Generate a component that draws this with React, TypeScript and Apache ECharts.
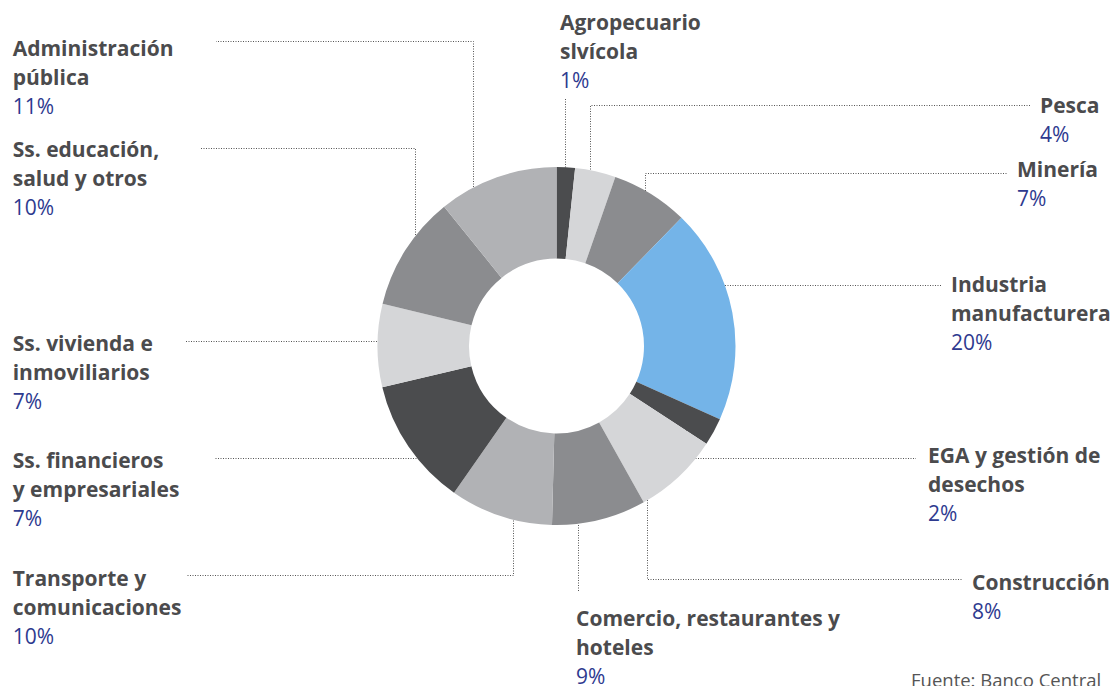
import React, { useEffect, useRef } from "react";
import * as echarts from "echarts";

const categories = [
  "Agropecuario\nslvícola",
  "Pesca",
  "Minería",
  "Industria\nmanufacturera",
  "EGA y gestión de\ndesechos",
  "Construcción",
  "Comercio, restaurantes y\nhoteles",
  "Transporte y\ncomunicaciones",
  "Ss. financieros\ny empresariales",
  "Ss. vivienda e\ninmoviliarios",
  "Ss. educación,\nsalud y otros",
  "Administración\npública",
];
// slice shares
const shares = [1.66, 3.67, 6.97, 19.4, 2.5, 7.7, 8.5, 9.3, 11.6, 7.5, 10.4, 10.8];
// percentages printed in the labels
const shareLabels = ["1%", "4%", "7%", "20%", "2%", "8%", "9%", "10%", "7%", "7%", "10%", "11%"];

const DARK = "#4b4c4e";
const LIGHT = "#d5d6d8";
const MID = "#8b8c8f";
const SOFT = "#b1b2b5";
const BLUE = "#74b4e8";
const sliceColors = [DARK, LIGHT, MID, BLUE, DARK, LIGHT, MID, SOFT, DARK, LIGHT, MID, SOFT];

// label block placement (left x, centre y of first line) and leader lines
const labelX = [560, 1040, 1017, 951, 928, 972, 576, 12.7, 12.7, 12.7, 12.7, 12.7];
const labelY = [22, 105, 169, 284, 455, 582, 618, 578, 460, 342.5, 149, 47.7];
const leaderLines: number[][][] = [
  [[565.5, 215], [565.5, 99]],
  [[590.5, 207], [590.5, 105.5], [1031, 105.5]],
  [[645.5, 216], [645.5, 173.5], [1008, 173.5]],
  [[686.5, 332], [686.5, 285.5], [941, 285.5]],
  [[686.5, 415], [686.5, 458.5], [916, 458.5]],
  [[647.5, 475], [647.5, 579.5], [962, 579.5]],
  [[578.5, 525], [578.5, 592]],
  [[513.5, 473], [513.5, 575.5], [186, 575.5]],
  [[420.5, 415], [420.5, 458.5], [215, 458.5]],
  [[377, 341.5], [185, 341.5]],
  [[415.5, 235], [415.5, 148.5], [200, 148.5]],
  [[473.5, 217], [473.5, 41.5], [216, 41.5]],
];

const LINE_H = 29;

export default function App() {
  const ref = useRef<HTMLDivElement>(null);
  useEffect(() => {
    if (!ref.current) return;
    document.body.style.margin = "0";
    const chart = echarts.init(ref.current, undefined, { renderer: "svg" });
    chart.setOption({
      animation: false,
      backgroundColor: "#ffffff",
      graphic: [
        {
          type: "text",
          left: 911,
          top: 670,
          style: {
            text: "Fuente: Banco Central",
            font: "18.5px 'Open Sans'",
            fill: "#555555",
          },
        },
      ],
      series: [
        {
          type: "pie",
          center: [556.5, 346],
          radius: [87.5, 179],
          startAngle: 90,
          clockwise: true,
          avoidLabelOverlap: false,
          emphasis: { disabled: true },
          itemStyle: { borderWidth: 0 },
          data: categories.map((name, i) => ({
            name,
            value: shares[i],
            itemStyle: { color: sliceColors[i] },
          })),
          label: {
            show: true,
            position: "outside",
            alignTo: "none",
            formatter: (p: any) => {
              const lines = String(p.name).split("\n").map((s: string) => `{n|${s}}`);
              return lines.join("\n") + `\n{p|${shareLabels[p.dataIndex]}}`;
            },
            rich: {
              n: {
                fontFamily: "Open Sans",
                fontWeight: "bold",
                fontSize: 21,
                color: "#4b4b4d",
                lineHeight: LINE_H,
              },
              p: {
                fontFamily: "Open Sans",
                fontSize: 21,
                color: "#2e3a8f",
                lineHeight: LINE_H,
              },
            },
          },
          labelLine: {
            show: true,
            smooth: false,
            lineStyle: { color: "#555555", width: 1, type: [1, 1.5] },
          },
          labelLayout: (params: any) => {
            const i = params.dataIndex;
            return {
              x: labelX[i],
              y: labelY[i] - LINE_H / 2,
              align: "left",
              verticalAlign: "top",
              labelLinePoints: leaderLines[i],
            };
          },
        },
      ],
    });
    return () => chart.dispose();
  }, []);
  return (
    <div
      ref={ref}
      style={{ position: "fixed", left: 0, top: 0, width: 1114, height: 686 }}
    />
  );
}
